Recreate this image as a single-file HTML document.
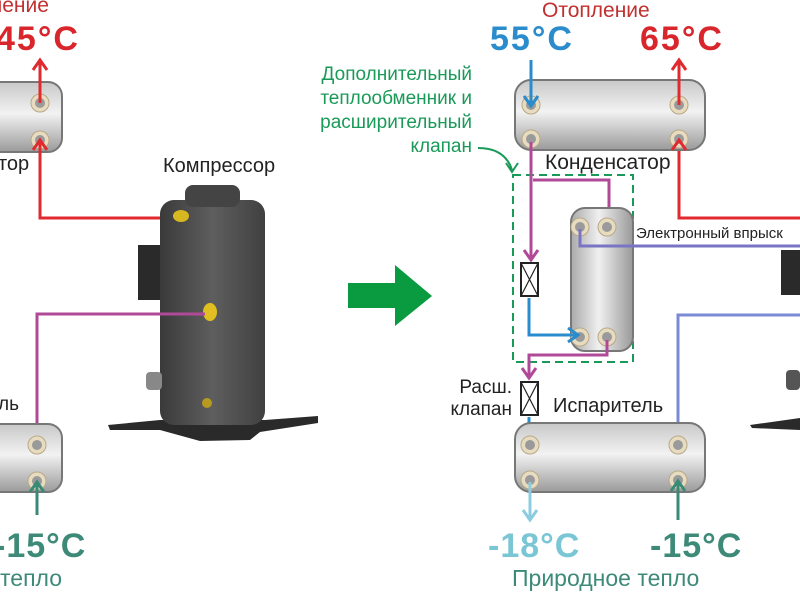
<!DOCTYPE html>
<html><head><meta charset="utf-8"><style>
html,body{margin:0;padding:0;background:#fff;width:800px;height:600px;overflow:hidden}
svg text{font-family:"Liberation Sans","DejaVu Sans",sans-serif}
</style></head><body>
<svg width="800" height="600" viewBox="0 0 800 600" xmlns="http://www.w3.org/2000/svg">
<defs>
<linearGradient id="hx" x1="0" y1="0" x2="0" y2="1">
<stop offset="0" stop-color="#c8c8c8"/><stop offset="0.45" stop-color="#f2f2f2"/><stop offset="1" stop-color="#9a9a9a"/></linearGradient>
<linearGradient id="hxv" x1="0" y1="0" x2="1" y2="0">
<stop offset="0" stop-color="#aaa"/><stop offset="0.45" stop-color="#f0f0f0"/><stop offset="1" stop-color="#999"/></linearGradient>
<linearGradient id="comp" x1="0" y1="0" x2="1" y2="0">
<stop offset="0" stop-color="#3a3a3a"/><stop offset="0.5" stop-color="#5e5e5e"/><stop offset="1" stop-color="#404040"/></linearGradient>
<g id="port"><circle r="9" fill="#e8dcc0" stroke="#b8a888"/><circle r="5" fill="#9a9a9a"/></g>
</defs>

<!-- LEFT -->
<text x="-10" y="12" font-size="21" fill="#c03030">ление</text>
<text x="-4" y="50" font-size="34" font-weight="bold" letter-spacing="2" fill="#d8262c">45°C</text>
<rect x="-20" y="82" width="82" height="70" rx="14" fill="url(#hx)" stroke="#777" stroke-width="2"/>
<use href="#port" x="40" y="103"/><use href="#port" x="40" y="140"/>
<path d="M40 103 V62 M33 70 L40 60 L47 70" stroke="#e02a30" stroke-width="3" fill="none"/>
<path d="M40 143 V218 H180" stroke="#e02a30" stroke-width="3" fill="none"/>
<path d="M33 150 L40 140 L47 150" stroke="#e02a30" stroke-width="3" fill="none"/>
<text x="-2" y="170" font-size="20" fill="#222">тор</text>
<text x="163" y="172" font-size="20" fill="#222">Компрессор</text>

<polygon points="108,425 160,420 265,420 318,416 318,423 260,432 250,440 200,441 160,430 110,430" fill="#2a2a2a"/>
<rect x="138" y="245" width="26" height="55" fill="#2a2a2a"/>
<rect x="160" y="200" width="105" height="225" rx="14" fill="url(#comp)"/>
<rect x="185" y="185" width="55" height="22" rx="8" fill="#444"/>
<ellipse cx="181" cy="216" rx="8" ry="6" fill="#d8b820"/>
<ellipse cx="210" cy="312" rx="7" ry="9" fill="#e0c020"/>
<ellipse cx="207" cy="403" rx="5" ry="5" fill="#b89a20"/>
<rect x="146" y="372" width="16" height="18" rx="4" fill="#888"/>
<path d="M205 314 H37 V442" stroke="#b04a98" stroke-width="3" fill="none"/>
<text x="-2" y="410" font-size="19" fill="#222">ль</text>
<rect x="-20" y="424" width="82" height="68" rx="14" fill="url(#hx)" stroke="#777" stroke-width="2"/>
<use href="#port" x="37" y="445"/><use href="#port" x="37" y="481"/>
<path d="M37 515 V484 M30 492 L37 482 L44 492" stroke="#3a8a78" stroke-width="3" fill="none"/>
<text x="-6" y="557" font-size="34" font-weight="bold" letter-spacing="1" fill="#3d8a78">-15°C</text>
<text x="0" y="586" font-size="23" fill="#3d8a78">тепло</text>

<!-- big arrow -->
<polygon points="348,283 395,283 395,265 432,296 395,326 395,308 348,308" fill="#0a9a40"/>

<!-- RIGHT -->
<text x="542" y="17" font-size="21" fill="#c03030">Отопление</text>
<text x="490" y="50" font-size="34" font-weight="bold" letter-spacing="2" fill="#2a8ccc">55°C</text>
<text x="640" y="50" font-size="34" font-weight="bold" letter-spacing="2" fill="#d8262c">65°C</text>
<text text-anchor="end" font-size="19" fill="#1a9a58"><tspan x="472" y="80">Дополнительный</tspan><tspan x="472" y="104">теплообменник и</tspan><tspan x="472" y="128">расширительный</tspan><tspan x="472" y="152">клапан</tspan></text>
<path d="M478 148 Q505 148 512 170 M506 163 L512 172 L518 163" stroke="#1a9a58" stroke-width="2" fill="none"/>

<path d="M679 140 V218 H800" stroke="#e02a30" stroke-width="3" fill="none"/>
<rect x="515" y="80" width="190" height="70" rx="16" fill="url(#hx)" stroke="#777" stroke-width="2"/>
<use href="#port" x="531" y="105"/><use href="#port" x="531" y="139"/><use href="#port" x="679" y="105"/><use href="#port" x="679" y="139"/>
<path d="M531 60 V105 M524 96 L531 106 L538 96" stroke="#2a8ccc" stroke-width="3" fill="none"/>
<path d="M679 105 V62 M672 70 L679 60 L686 70" stroke="#e02a30" stroke-width="3" fill="none"/>
<path d="M672 150 L679 140 L686 150" stroke="#e02a30" stroke-width="3" fill="none"/>
<text x="545" y="169" font-size="21" fill="#222">Конденсатор</text>

<rect x="513" y="175" width="120" height="187" fill="none" stroke="#1a9a58" stroke-width="2" stroke-dasharray="8,5"/>
<path d="M531 142 V258 M524 250 L531 260 L538 250" stroke="#b04a98" stroke-width="3" fill="none"/>
<path d="M533 180 H609 V222 M602 214 L609 224 L616 214" stroke="#b04a98" stroke-width="3" fill="none"/>
<rect x="571" y="208" width="62" height="143" rx="14" fill="url(#hxv)" stroke="#777" stroke-width="2"/>
<use href="#port" x="580" y="227"/><use href="#port" x="607" y="227"/><use href="#port" x="580" y="337"/><use href="#port" x="607" y="337"/>
<path d="M580 229 V246 H800" stroke="#7a74c4" stroke-width="3" fill="none"/>
<text x="636" y="238" font-size="15" fill="#222">Электронный впрыск</text>
<rect x="521" y="263" width="17" height="33" fill="#fff" stroke="#222" stroke-width="2"/>
<path d="M521 263 L538 296 M538 263 L521 296" stroke="#222" stroke-width="1.2"/>
<path d="M529 298 V335 H576 M568 328 L578 335 L568 342" stroke="#2a8ccc" stroke-width="3" fill="none"/>
<path d="M607 340 V355 H529 V376 M522 368 L529 378 L536 368" stroke="#b04a98" stroke-width="3" fill="none"/>
<rect x="521" y="382" width="17" height="33" fill="#fff" stroke="#222" stroke-width="2"/>
<path d="M521 382 L538 415 M538 382 L521 415" stroke="#222" stroke-width="1.2"/>
<text text-anchor="end" font-size="19" fill="#222"><tspan x="512" y="393">Расш.</tspan><tspan x="512" y="415">клапан</tspan></text>
<text x="553" y="412" font-size="20" fill="#222">Испаритель</text>
<path d="M529 417 V445 M522 437 L529 447 L536 437" stroke="#2a8ccc" stroke-width="3" fill="none"/>
<path d="M678 445 V315 H800" stroke="#7a8ad4" stroke-width="3" fill="none"/>
<rect x="515" y="423" width="190" height="69" rx="16" fill="url(#hx)" stroke="#777" stroke-width="2"/>
<use href="#port" x="530" y="445"/><use href="#port" x="530" y="480"/><use href="#port" x="678" y="445"/><use href="#port" x="678" y="480"/>
<path d="M530 482 V518 M523 510 L530 520 L537 510" stroke="#8ccce0" stroke-width="3" fill="none"/>
<path d="M678 520 V483 M671 491 L678 481 L685 491" stroke="#3a8a78" stroke-width="3" fill="none"/>
<text x="488" y="557" font-size="34" font-weight="bold" letter-spacing="1" fill="#7ac6d4">-18°C</text>
<text x="650" y="557" font-size="34" font-weight="bold" letter-spacing="1" fill="#3d8a78">-15°C</text>
<text x="512" y="586" font-size="23" fill="#3d8a78">Природное тепло</text>
<rect x="781" y="250" width="19" height="45" fill="#2a2a2a"/>
<rect x="786" y="370" width="14" height="20" rx="4" fill="#555"/>
<polygon points="750,425 800,418 800,430 752,428" fill="#2a2a2a"/>
</svg>
</body></html>
